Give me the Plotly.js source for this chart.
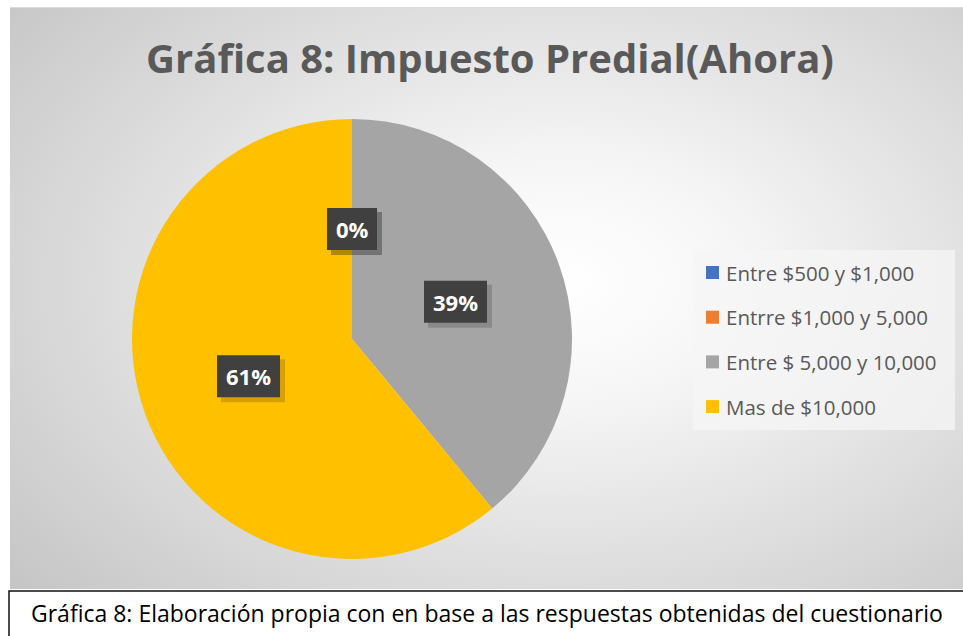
<!DOCTYPE html>
<html>
<head>
<meta charset="utf-8">
<script src="https://cdn.plot.ly/plotly-3.0.1.min.js"></script>
<style>
  html, body { margin: 0; padding: 0; background: #ffffff; }
  #frame {
    position: absolute; left: 10px; top: 7px; width: 953px; height: 581px;
    border-top: 1px solid #dcdcdc;
    background: radial-gradient(ellipse 75% 80% at 58% 47%, #ffffff 0%, #f6f6f6 25%, #dcdcdc 65%, #c6c6c6 100%);
  }
  #chart { position: absolute; left: 0; top: 0; width: 963px; height: 636px; }
</style>
</head>
<body>
<div id="frame"></div>
<div id="chart"></div>
<script>
const W = 963;
const H = 636;

const categories = ['Entre $500 y $1,000', 'Entrre $1,000 y 5,000', 'Entre $ 5,000 y 10,000', 'Mas de $10,000'];
const values = [0, 0, 39, 61];
const sliceColors = ['#4472c4', '#ed7d31', '#a5a5a5', '#ffc000'];

const titleText = 'Gráfica 8: Impuesto Predial(Ahora)';
const captionText = 'Gráfica 8: Elaboración propia con en base a las respuestas obtenidas del cuestionario';

// pie geometry in pixels
const pieCx = 352, pieCy = 339, pieR = 220;
const px = x => x / W;
const py = y => 1 - y / H;

const plotData = [{
  type: 'pie',
  labels: categories,
  values: values,
  sort: false,
  direction: 'clockwise',
  rotation: 0,
  textinfo: 'none',
  hoverinfo: 'label+percent',
  marker: { colors: sliceColors, line: { width: 0 } },
  domain: { x: [px(pieCx - pieR), px(pieCx + pieR)], y: [py(pieCy + pieR), py(pieCy - pieR)] },
  showlegend: false,
}];

const annotations = [];
const shapes = [];

// data labels: dark boxes at half radius on each slice's mid angle
const total = values.reduce((a, b) => a + b, 0);
let cum = 0;
values.forEach((v, i) => {
  const mid = (cum + v / 2) / total * 2 * Math.PI;
  cum += v;
  const lx = pieCx + Math.sin(mid) * pieR * 0.5;
  const ly = pieCy - Math.cos(mid) * pieR * 0.5;
  const label = `${Math.round(v / total * 100)}%`;
  const bw = 24 + 13 * label.length, bh = 42;
  // soft shadow then the dark box
  shapes.push({
    type: 'rect', xref: 'paper', yref: 'paper',
    x0: px(lx - bw / 2 + 4), x1: px(lx + bw / 2 + 5), y0: py(ly + bh / 2 + 5), y1: py(ly - bh / 2 + 4),
    fillcolor: 'rgba(0,0,0,0.16)', line: { width: 0 },
  });
  shapes.push({
    type: 'rect', xref: 'paper', yref: 'paper',
    x0: px(lx - bw / 2), x1: px(lx + bw / 2), y0: py(ly + bh / 2), y1: py(ly - bh / 2),
    fillcolor: '#404040', line: { width: 0 },
  });
  if (i > 0 && v === 0 && values[i - 1] === 0) return; // same spot, one text is enough
  annotations.push({
    xref: 'paper', yref: 'paper', x: px(lx), y: py(ly),
    xanchor: 'center', yanchor: 'middle', showarrow: false,
    text: `<b>${label}</b>`,
    font: { family: 'Open Sans, sans-serif', size: 22, color: '#ffffff' },
  });
});

// legend
const legendX = 706, legendY0 = 272.5, legendStep = 44.7;
shapes.push({
  type: 'rect', xref: 'paper', yref: 'paper',
  x0: px(693), x1: px(955), y0: py(430), y1: py(250),
  fillcolor: 'rgba(245,245,245,0.75)', line: { width: 0 }, layer: 'below',
});
categories.forEach((c, i) => {
  const cy = legendY0 + i * legendStep;
  shapes.push({
    type: 'rect', xref: 'paper', yref: 'paper',
    x0: px(legendX), x1: px(legendX + 13), y0: py(cy + 6.5), y1: py(cy - 6.5),
    fillcolor: sliceColors[i], line: { width: 0 },
  });
  annotations.push({
    xref: 'paper', yref: 'paper', x: px(legendX + 18), y: py(cy),
    xanchor: 'left', yanchor: 'middle', showarrow: false,
    text: c,
    font: { family: 'Open Sans, sans-serif', size: 20.5, color: '#595959' },
  });
});

// caption box under the chart
shapes.push({
  type: 'rect', xref: 'paper', yref: 'paper',
  x0: px(9), x1: 1.05, y0: -0.1, y1: py(591),
  fillcolor: '#ffffff', line: { color: '#111111', width: 1.5 },
});
annotations.push({
  xref: 'paper', yref: 'paper', x: px(29), y: py(613),
  xanchor: 'left', yanchor: 'middle', showarrow: false,
  text: captionText,
  font: { family: 'Open Sans, sans-serif', size: 23, color: '#000000' },
});

const plotLayout = {
  width: W,
  height: H,
  margin: { l: 0, r: 0, t: 0, b: 0 },
  paper_bgcolor: 'rgba(0,0,0,0)',
  plot_bgcolor: 'rgba(0,0,0,0)',
  title: {
    text: `<b>${titleText}</b>`,
    x: px(490), xanchor: 'center',
    y: py(59), yanchor: 'middle',
    font: { family: 'Open Sans, sans-serif', size: 40, color: '#595959' },
  },
  showlegend: false,
  annotations: annotations,
  shapes: shapes,
};

Plotly.newPlot('chart', plotData, plotLayout, { displayModeBar: false, staticPlot: true });
</script>
</body>
</html>
